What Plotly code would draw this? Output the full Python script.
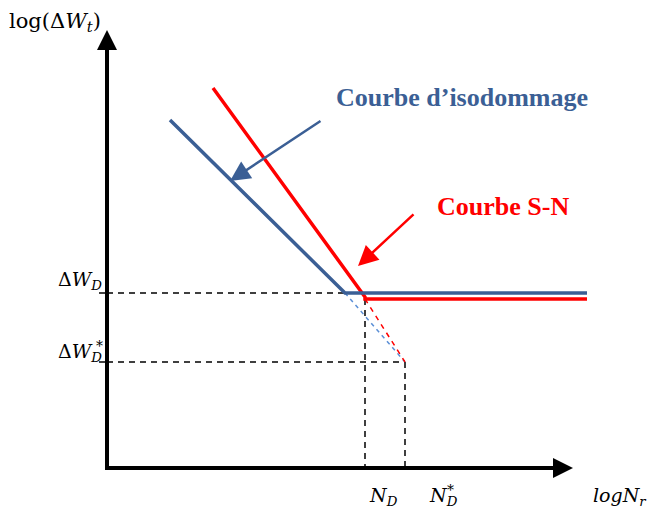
import plotly.graph_objects as go

# Schematic coordinates (page-like units; y grows downward)
axis_origin = [107, 468]
y_axis_top = 30
x_axis_right = 573

blue_x = [170, 345, 587]
blue_y = [120, 293, 293]
red_x = [213, 365, 365, 587]
red_y = [88, 297, 299, 299]
blue_ext_x = [345, 405]
blue_ext_y = [293, 362]
red_ext_x = [365, 405]
red_ext_y = [299, 362]

dWD_y = 293
dWDs_y = 362
ND_x = 365
NDs_x = 405

BLUE = "#3B5F95"
RED = "#FF0000"

fig = go.Figure()

dash_style = dict(color="black", width=1.5, dash="6px,5px")
fig.add_trace(go.Scatter(x=[axis_origin[0], blue_x[1]], y=[dWD_y, dWD_y], mode="lines",
                         line=dash_style, hoverinfo="skip"))
fig.add_trace(go.Scatter(x=[ND_x, ND_x], y=[red_y[2], axis_origin[1]], mode="lines",
                         line=dash_style, hoverinfo="skip"))
fig.add_trace(go.Scatter(x=[axis_origin[0], NDs_x], y=[dWDs_y, dWDs_y], mode="lines",
                         line=dash_style, hoverinfo="skip"))
fig.add_trace(go.Scatter(x=[NDs_x, NDs_x], y=[dWDs_y, axis_origin[1]], mode="lines",
                         line=dash_style, hoverinfo="skip"))

# extensions
fig.add_trace(go.Scatter(x=blue_ext_x, y=blue_ext_y, mode="lines",
                         line=dict(color="#5B8FD6", width=1.5, dash="4px,4px"), hoverinfo="skip"))
fig.add_trace(go.Scatter(x=red_ext_x, y=red_ext_y, mode="lines",
                         line=dict(color=RED, width=1.5, dash="5px,5px"), hoverinfo="skip"))

# main curves
fig.add_trace(go.Scatter(x=red_x, y=red_y, mode="lines",
                         line=dict(color=RED, width=3.5), hoverinfo="skip"))
fig.add_trace(go.Scatter(x=blue_x, y=blue_y, mode="lines",
                         line=dict(color=BLUE, width=3.5), hoverinfo="skip"))

# axes lines
fig.add_trace(go.Scatter(x=[axis_origin[0], axis_origin[0]], y=[axis_origin[1], y_axis_top + 15],
                         mode="lines", line=dict(color="black", width=4), hoverinfo="skip"))
fig.add_trace(go.Scatter(x=[axis_origin[0] - 2, x_axis_right - 15], y=[axis_origin[1], axis_origin[1]],
                         mode="lines", line=dict(color="black", width=4), hoverinfo="skip"))

# ticks on y axis
for yy in [dWD_y, dWDs_y]:
    fig.add_trace(go.Scatter(x=[axis_origin[0] - 8, axis_origin[0]], y=[yy, yy], mode="lines",
                             line=dict(color="black", width=1.5), hoverinfo="skip"))

annotations = []
annotations.append(dict(x=axis_origin[0], y=y_axis_top, ax=axis_origin[0], ay=y_axis_top + 20,
                        xref="x", yref="y", axref="x", ayref="y", showarrow=True,
                        arrowhead=2, arrowsize=1, arrowwidth=4, arrowcolor="black", text=""))
annotations.append(dict(x=x_axis_right, y=axis_origin[1], ax=x_axis_right - 20, ay=axis_origin[1],
                        xref="x", yref="y", axref="x", ayref="y", showarrow=True,
                        arrowhead=2, arrowsize=1, arrowwidth=4, arrowcolor="black", text=""))
annotations.append(dict(x=230, y=181, ax=322, ay=120, xref="x", yref="y", axref="x", ayref="y",
                        showarrow=True, arrowhead=2, arrowsize=1.6, arrowwidth=2.5,
                        arrowcolor=BLUE, text=""))
annotations.append(dict(x=358, y=266, ax=415, ay=213, xref="x", yref="y", axref="x", ayref="y",
                        showarrow=True, arrowhead=2, arrowsize=1.6, arrowwidth=2.5,
                        arrowcolor=RED, text=""))

annotations.append(dict(x=334, y=97, xref="x", yref="y", xanchor="left", yanchor="middle",
                        text="<b>Courbe d’isodommage</b>", showarrow=False,
                        font=dict(family="Liberation Serif", size=26, color=BLUE)))
annotations.append(dict(x=435, y=206, xref="x", yref="y", xanchor="left", yanchor="middle",
                        text="<b>Courbe S-N</b>", showarrow=False,
                        font=dict(family="Liberation Serif", size=26, color=RED)))

mfont = dict(family="DejaVu Serif", size=19, color="black")
sfont = dict(family="DejaVu Serif", size=14, color="black")
annotations.append(dict(x=7, y=22, xref="x", yref="y", xanchor="left", yanchor="middle",
                        text="log(Δ<i>W<sub>t</sub></i>)", showarrow=False,
                        font=dict(family="DejaVu Serif", size=21, color="black")))
annotations.append(dict(x=104, y=280, xref="x", yref="y", xanchor="right", yanchor="middle",
                        text="Δ<i>W<sub>D</sub></i>", showarrow=False, font=mfont))
annotations.append(dict(x=104, y=352, xref="x", yref="y", xanchor="right", yanchor="middle",
                        text="Δ<i>W<sub>D</sub></i>", showarrow=False, font=mfont))
annotations.append(dict(x=99, y=346, xref="x", yref="y", xanchor="center", yanchor="middle",
                        text="*", showarrow=False, font=sfont))
annotations.append(dict(x=383, y=496, xref="x", yref="y", xanchor="center", yanchor="middle",
                        text="<i>N<sub>D</sub></i>", showarrow=False, font=mfont))
annotations.append(dict(x=443, y=496, xref="x", yref="y", xanchor="center", yanchor="middle",
                        text="<i>N<sub>D</sub></i>", showarrow=False, font=mfont))
annotations.append(dict(x=450, y=490, xref="x", yref="y", xanchor="center", yanchor="middle",
                        text="*", showarrow=False, font=sfont))
annotations.append(dict(x=620, y=496, xref="x", yref="y", xanchor="center", yanchor="middle",
                        text="<i>logN<sub>r</sub></i>", showarrow=False, font=mfont))

fig.update_layout(
    width=656, height=512, margin=dict(l=0, r=0, t=0, b=0),
    paper_bgcolor="white", plot_bgcolor="white", showlegend=False,
    xaxis=dict(range=[0, 656], visible=False, fixedrange=True),
    yaxis=dict(range=[512, 0], visible=False, fixedrange=True),
    annotations=annotations,
)

fig.write_html("out.html")
